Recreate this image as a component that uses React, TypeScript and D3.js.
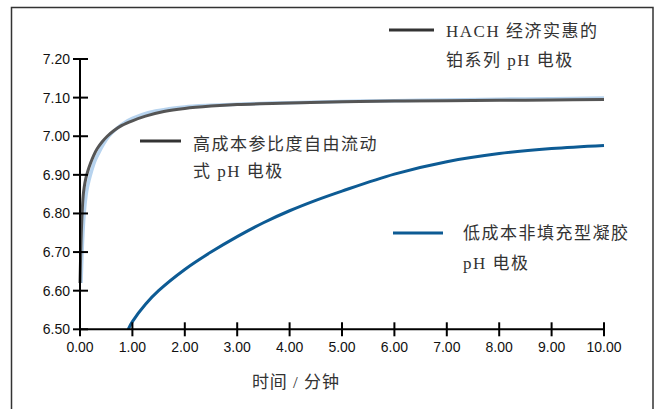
import React from 'react'
import * as d3 from 'd3'

// time (minutes) and pH readings
const hachTime = [0, 0.02, 0.04, 0.06, 0.08, 0.11, 0.15, 0.2, 0.26, 0.33, 0.42, 0.52, 0.65, 0.8, 1.0, 1.25, 1.6, 2.0, 2.5, 3.0, 4.0, 5.0, 6.0, 7.0, 8.0, 9.0, 10.0]
const hachPH = [6.62, 6.73, 6.8, 6.845, 6.868, 6.89, 6.91, 6.93, 6.95, 6.968, 6.985, 7.0, 7.015, 7.028, 7.04, 7.052, 7.064, 7.072, 7.078, 7.082, 7.086, 7.089, 7.091, 7.092, 7.093, 7.094, 7.095]

const flowTime = [0.02, 0.04, 0.06, 0.08, 0.1, 0.13, 0.17, 0.22, 0.28, 0.35, 0.45, 0.55, 0.7, 0.85, 1.0, 1.3, 1.7, 2.0, 2.5, 3.0, 4.0, 5.0, 6.0, 7.0, 8.0, 9.0, 10.0]
const flowPH = [6.62, 6.7, 6.76, 6.8, 6.83, 6.86, 6.885, 6.91, 6.935, 6.955, 6.98, 7.0, 7.02, 7.035, 7.046, 7.061, 7.071, 7.076, 7.08, 7.083, 7.087, 7.09, 7.092, 7.094, 7.096, 7.097, 7.099]

const gelTime = [0.92, 1.0, 1.25, 1.5, 2.0, 2.5, 3.0, 3.5, 4.0, 4.5, 5.0, 6.0, 7.0, 8.0, 9.0, 10.0]
const gelPH = [6.5, 6.52, 6.565, 6.6, 6.655, 6.7, 6.74, 6.776, 6.807, 6.834, 6.858, 6.902, 6.934, 6.955, 6.968, 6.976]

const xTicks = [0, 1, 2, 3, 4, 5, 6, 7, 8, 9, 10]
const yTicks = [6.5, 6.6, 6.7, 6.8, 6.9, 7.0, 7.1, 7.2]

const legendHach = ['HACH 经济实惠的', '铂系列 pH 电极']
const legendFlow = ['高成本参比度自由流动', '式 pH 电极']
const legendGel = ['低成本非填充型凝胶', 'pH 电极']
const xTitle = '时间 / 分钟'

const W = 658
const H = 409
const tickFont = "Arial, 'Liberation Sans', sans-serif"
const labelFont = "'Liberation Serif', 'Noto Sans CJK SC', serif"

const x = d3.scaleLinear().domain([0, 10]).range([80, 604])
const y = d3.scaleLinear().domain([6.5, 7.2]).range([329.3, 59])

const line = d3.line<[number, number]>()
  .x(d => x(d[0]))
  .y(d => y(d[1]))
  .curve(d3.curveCatmullRom.alpha(0.5))

const zip = (t: number[], v: number[]) => t.map((d, i) => [d, v[i]] as [number, number])

const Legend = ({ x1, x2, ly, color, lines, tx, ty, gap }: any) => (
  <g>
    <line x1={x1} x2={x2} y1={ly} y2={ly} stroke={color} strokeWidth={3} />
    {lines.map((s: string, i: number) => (
      <text key={i} x={tx} y={ty + i * gap} fontSize={17} letterSpacing={1.5}
        fontFamily={labelFont} fill="#333">{s}</text>
    ))}
  </g>
)

export default function App() {
  return (
    <svg width={W} height={H} style={{ position: 'absolute', left: 0, top: 0, background: '#fff' }}>
      {/* frame, open at the bottom */}
      <path d={`M11.5,${H + 2} V7.5 H653 V${H + 2}`} fill="none" stroke="#333" strokeWidth={1.5} />

      {/* curves */}
      <path d={line(zip(flowTime, flowPH)) || ''} fill="none" stroke="#b7d3ee" strokeWidth={3.5} />
      <path d={line(zip(hachTime, hachPH)) || ''} fill="none" stroke="#555" strokeWidth={3} />
      <path d={line(zip(gelTime, gelPH)) || ''} fill="none" stroke="#0d5b94" strokeWidth={3} />

      {/* y axis */}
      <line x1={x(0)} x2={x(0)} y1={y(7.2)} y2={y(6.5) + 1} stroke="#000" strokeWidth={2} />
      {yTicks.map(t => (
        <g key={t}>
          <line x1={x(0) - 7} x2={x(0) + 8} y1={y(t)} y2={y(t)} stroke="#000" strokeWidth={2} />
          <text x={70} y={y(t) + 5} textAnchor="end" fontSize={14} fontFamily={tickFont} fill="#111">
            {t.toFixed(2)}
          </text>
        </g>
      ))}

      {/* x axis */}
      <line x1={x(0)} x2={x(10)} y1={y(6.5)} y2={y(6.5)} stroke="#000" strokeWidth={2} />
      {xTicks.map(t => (
        <g key={t}>
          <line x1={x(t)} x2={x(t)} y1={y(6.5) - 7} y2={y(6.5) + 7} stroke="#000" strokeWidth={2} />
          <text x={x(t)} y={352} textAnchor="middle" fontSize={14} fontFamily={tickFont} fill="#111">
            {t.toFixed(2)}
          </text>
        </g>
      ))}
      <text x={296} y={388} textAnchor="middle" fontSize={17} letterSpacing={1}
        fontFamily={labelFont} fill="#333">{xTitle}</text>

      {/* legends */}
      <Legend x1={389} x2={434} ly={30} color="#333" lines={legendHach} tx={446} ty={37} gap={29} />
      <Legend x1={140} x2={181} ly={141} color="#333" lines={legendFlow} tx={193} ty={150} gap={27} />
      <Legend x1={393} x2={443} ly={233} color="#0d5b94" lines={legendGel} tx={463} ty={239} gap={30} />
    </svg>
  )
}
